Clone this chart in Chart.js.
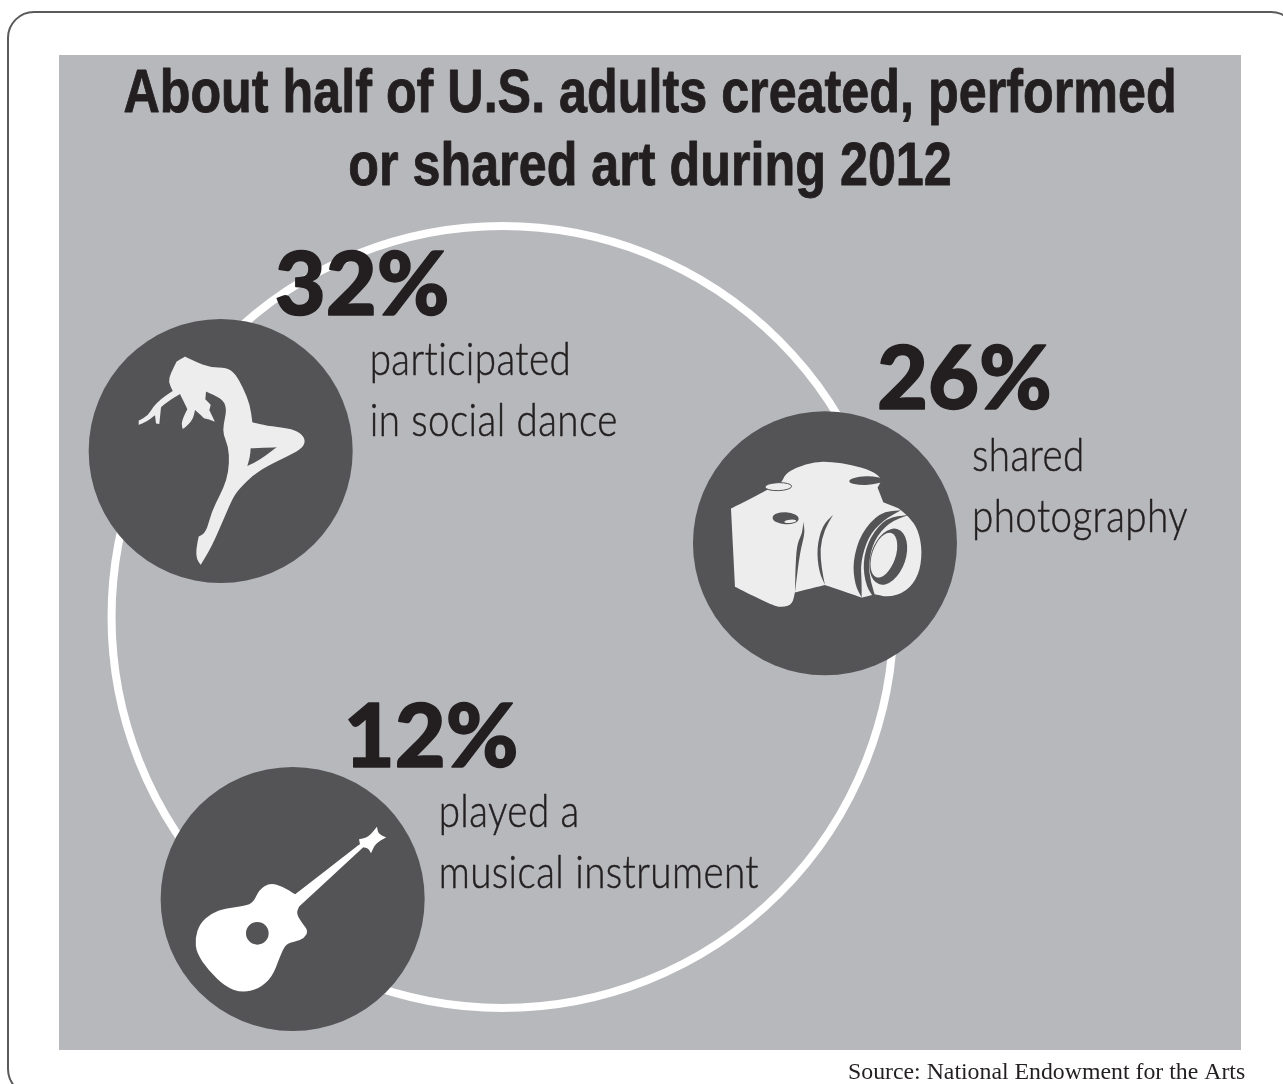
<!DOCTYPE html>
<html>
<head>
<meta charset="utf-8">
<title>Art participation</title>
<script src="https://cdn.jsdelivr.net/npm/chart.js@4"></script>
<style>
  html, body { margin: 0; padding: 0; background: #fff; overflow: hidden; }
  #frame { position: absolute; left: 7px; top: 11px; width: 1287px; height: 1081px; border: 2px solid #5a5a5a; border-radius: 27px; }
  #panel { position: absolute; left: 59px; top: 55px; width: 1182px; height: 995px; background: #b7b8bb; }
  #art-chart { position: absolute; left: 0; top: 0; }
</style>
</head>
<body>
<div id="frame"></div>
<div id="panel"></div>
<canvas id="art-chart" width="1283" height="1084"></canvas>
<script>
var titleLines = ['About half of U.S. adults created, performed', 'or shared art during 2012'];
var sourceText = 'Source: National Endowment for the Arts';
var categories = [['participated', 'in social dance'], ['shared', 'photography'], ['played a', 'musical instrument']];
var values = [32, 26, 12];

// where things sit, in percent of the page
var bubbleX = [17.20, 64.30, 22.81];
var bubbleY = [41.60, 50.12, 82.93];
var ringX = [39.17];
var ringY = [56.92];

var INK = '#231f20';
var DARK = '#545456';
var BUBBLE_R = 132;
var RING_R = 391;

// offsets from each bubble centre to its text
var numberOffset = [[54, -136], [52, -134], [51, -132]];
var labelOffset = [[149, -76, -15], [147, -72, -11], [146, -72, -11]];

// closed outline through midpoints, a repeated point makes a sharp corner
function outline(path, pts) {
  var n = pts.length;
  var mx = (pts[n - 1][0] + pts[0][0]) / 2;
  var my = (pts[n - 1][1] + pts[0][1]) / 2;
  path.moveTo(mx, my);
  for (var i = 0; i < n; i++) {
    var next = pts[(i + 1) % n];
    path.quadraticCurveTo(pts[i][0], pts[i][1], (pts[i][0] + next[0]) / 2, (pts[i][1] + next[1]) / 2);
  }
  path.closePath();
  return path;
}

function sharp(x, y) {
  return [[x, y], [x, y]];
}

function shape() {
  var pts = [];
  for (var i = 0; i < arguments.length; i++) {
    var p = arguments[i];
    if (Array.isArray(p[0])) {
      pts.push(p[0], p[1]);
    } else {
      pts.push(p);
    }
  }
  return pts;
}

function dancer(ctx) {
  ctx.fillStyle = '#ededee';
  var body = outline(new Path2D(), shape(
    sharp(315, 140), [345, 155], [390, 172], [440, 173], [465, 190], [490, 235], [510, 285], sharp(517, 337),
    [560, 348], [625, 355], [662, 368], [678, 395], [662, 418], [620, 440], [560, 470], [520, 495], [480, 535], [460, 560],
    [430, 630], [395, 710], sharp(362, 765), [350, 748], [348, 720], sharp(356, 680), [378, 668], [395, 605], [420, 555],
    [440, 510], [448, 460], [445, 410], [430, 375], [430, 345], [440, 300], [430, 270], [400, 255], sharp(378, 245),
    sharp(376, 268), sharp(392, 285), sharp(388, 300), sharp(405, 336), sharp(385, 328), sharp(372, 325), sharp(345, 300),
    [340, 325], [325, 345], sharp(308, 357), [304, 340], [312, 318], sharp(322, 298), sharp(300, 252), [270, 270], sharp(243, 292),
    sharp(238, 342), sharp(228, 341), sharp(225, 316), [200, 335], sharp(176, 345), sharp(176, 332), [205, 316], [218, 292], [242, 268],
    sharp(278, 243), [265, 215], [272, 190], sharp(290, 155)
  ));
  outline(body, shape(sharp(512, 415), sharp(590, 412), [540, 450], sharp(502, 468), [510, 440]));
  ctx.fill(body, 'evenodd');
}

function camera(ctx) {
  ctx.fillStyle = '#ededee';
  ctx.fill(outline(new Path2D(), shape(
    sharp(138, 310), [190, 285], sharp(240, 258), [290, 235], [300, 208], [335, 187], [390, 170], [440, 170], [500, 180], [560, 197],
    [592, 222], sharp(578, 248), sharp(595, 292), sharp(640, 310), [672, 335], [700, 375], [712, 440], [702, 510], [665, 560],
    [610, 577], sharp(570, 568), sharp(530, 578), sharp(420, 540), sharp(330, 562), [322, 598], [295, 607], [265, 603],
    sharp(150, 545)
  )));

  ctx.fillStyle = DARK;
  // grip shadow and lens barrel creases
  ctx.fill(outline(new Path2D(), shape(sharp(355, 350), [360, 385], [345, 440], sharp(330, 562), [332, 470], [337, 415], [352, 385])));
  ctx.fill(outline(new Path2D(), shape(sharp(444, 330), [412, 362], [395, 430], [402, 500], sharp(420, 540), [410, 490], [405, 430], [418, 375])));
  // lens bands
  ctx.fill(outline(new Path2D(), shape(sharp(648, 316), [585, 322], [528, 385], [503, 470], [510, 540], sharp(530, 578), [530, 530], [527, 470], [550, 395], [595, 345])));
  ctx.fill(outline(new Path2D(), shape(sharp(670, 330), [605, 338], [555, 395], [533, 470], [543, 545], sharp(576, 590), [557, 530], [550, 475], [567, 405], [612, 352])));

  ctx.save();
  ctx.translate(610, 455);
  ctx.rotate(0.33);
  ctx.beginPath();
  ctx.ellipse(0, 0, 52, 87, 0, 0, Math.PI * 2);
  ctx.fill();
  ctx.fillStyle = '#ededee';
  ctx.beginPath();
  ctx.ellipse(-14, 0, 35, 70, 0, 0, Math.PI * 2);
  ctx.fill();
  ctx.restore();

  // dials and viewfinder
  ctx.beginPath();
  ctx.ellipse(543, 227, 50, 13, -0.03, 0, Math.PI * 2);
  ctx.fill();
  ctx.beginPath();
  ctx.ellipse(302, 340, 39, 18, 0.05, 0, Math.PI * 2);
  ctx.fill();
  ctx.fillStyle = '#ededee';
  ctx.strokeStyle = DARK;
  ctx.lineWidth = 3;
  ctx.beginPath();
  ctx.ellipse(280, 245, 40, 12, -0.03, 0, Math.PI * 2);
  ctx.fill();
  ctx.stroke();
  ctx.beginPath();
  ctx.ellipse(316, 349, 18, 5, -0.1, 0, Math.PI * 2);
  ctx.fill();
}

function guitar(ctx) {
  ctx.fillStyle = '#fff';
  var body = outline(new Path2D(), shape(
    sharp(420, 403), sharp(615, 252), sharp(612, 238), [640, 232], sharp(666, 200), [670, 222], sharp(694, 232), [662, 250], sharp(648, 280),
    [640, 265], sharp(625, 262), sharp(432, 440), [424, 460], [440, 488], [460, 512], [448, 535], [420, 545], [392, 552],
    [375, 590], [352, 650], [312, 687], [260, 698], [210, 680], [160, 630], [125, 580], [120, 535], [135, 490], [170, 460],
    [210, 445], [270, 438], [295, 428], [312, 390], [345, 368], [385, 380]
  ));
  body.moveTo(341, 520);
  body.arc(307, 520, 34, 0, Math.PI * 2);
  ctx.fill(body, 'evenodd');
}

var icons = [
  { draw: dancer, ox: 422, oy: 423 },
  { draw: camera, ox: 420, oy: 415 },
  { draw: guitar, ox: 413, oy: 417 }
];

// narrowed text, with an optional outline to thicken the strokes
function stretchedText(ctx, text, x, y, sx, weight) {
  ctx.save();
  ctx.translate(x, y);
  ctx.scale(sx, 1);
  ctx.fillText(text, 0, 0);
  if (weight) {
    ctx.strokeStyle = INK;
    ctx.lineWidth = weight;
    ctx.lineJoin = 'round';
    ctx.strokeText(text, 0, 0);
  }
  ctx.restore();
}

var artwork = {
  id: 'artwork',
  afterDatasetsDraw: function (chart) {
    var ctx = chart.ctx;
    var points = chart.getDatasetMeta(0).data;

    ctx.save();
    ctx.textBaseline = 'alphabetic';
    ctx.fillStyle = INK;

    ctx.textAlign = 'center';
    ctx.font = 'bold 62px "Liberation Sans"';
    stretchedText(ctx, titleLines[0], 650, 112, 0.811, 0.9);
    stretchedText(ctx, titleLines[1], 650, 185, 0.811, 0.9);

    ctx.textAlign = 'left';
    for (var i = 0; i < points.length; i++) {
      var cx = points[i].x;
      var cy = points[i].y;

      ctx.save();
      ctx.translate(cx, cy);
      ctx.scale(1 / 3, 1 / 3);
      ctx.translate(-icons[i].ox, -icons[i].oy);
      icons[i].draw(ctx);
      ctx.restore();

      ctx.font = '900 88px Lato';
      stretchedText(ctx, values[i] + '%', cx + numberOffset[i][0], cy + numberOffset[i][1], 1, 1.5);

      ctx.font = '300 45px Lato';
      ctx.letterSpacing = '0.5px';
      stretchedText(ctx, categories[i][0], cx + labelOffset[i][0], cy + labelOffset[i][1], 0.857, 0.5);
      stretchedText(ctx, categories[i][1], cx + labelOffset[i][0], cy + labelOffset[i][2], 0.857, 0.5);
      ctx.letterSpacing = '0px';
    }

    ctx.font = '23.8px "Liberation Serif"';
    ctx.fillText(sourceText, 848, 1079);
    ctx.restore();
  }
};

var charEl = document.getElementById('art-chart');
var myChart = new Chart(charEl, {
  type: 'bubble',
  data: {
    datasets: [
      {
        label: 'Share of adults',
        data: values.map(function (v, i) {
          return { x: bubbleX[i], y: bubbleY[i], r: BUBBLE_R, share: v };
        }),
        backgroundColor: DARK,
        borderWidth: 0,
        order: 1
      },
      {
        label: 'Ring',
        data: ringX.map(function (x, i) {
          return { x: x, y: ringY[i], r: RING_R };
        }),
        backgroundColor: 'rgba(0,0,0,0)',
        borderColor: '#fff',
        borderWidth: 8,
        order: 2
      }
    ]
  },
  options: {
    responsive: false,
    animation: false,
    layout: { padding: 0, autoPadding: false },
    clip: false,
    scales: {
      x: { type: 'linear', min: 0, max: 100, display: false },
      y: { type: 'linear', min: 0, max: 100, reverse: true, display: false }
    },
    plugins: {
      legend: { display: false },
      title: { display: false },
      tooltip: { enabled: false }
    }
  },
  plugins: [artwork]
});
</script>
</body>
</html>
